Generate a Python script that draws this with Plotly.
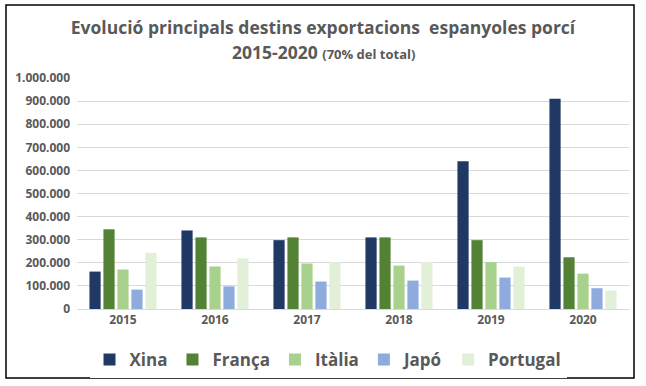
import plotly.graph_objects as go

years = ["2015", "2016", "2017", "2018", "2019", "2020"]
xina = [162000, 340000, 298000, 310000, 640000, 910000]
franca = [345000, 310000, 310000, 310000, 298000, 224000]
italia = [171000, 184000, 197000, 188000, 203000, 153000]
japo = [84000, 98000, 119000, 123000, 136000, 90000]
portugal = [243000, 219000, 203000, 204000, 184000, 80000]

series = [
    ("Xina", xina, "#203864"),
    ("França", franca, "#548235"),
    ("Itàlia", italia, "#A9D18E"),
    ("Japó", japo, "#8FAADC"),
    ("Portugal", portugal, "#E2F0D9"),
]

W, H = 646, 386
ML, MR, MT, MB = 77, 17, 78, 77

fig = go.Figure()
for name, vals, col in series:
    fig.add_trace(go.Bar(x=years, y=vals, name=name, marker=dict(color=col, line=dict(width=0))))

pw = W - ML - MR
ph = H - MT - MB
def px_to_paper_x(p):
    return (p - ML) / pw
def px_to_paper_y(p):
    return (H - MB - p) / ph

fig.update_layout(
    width=W, height=H,
    margin=dict(l=ML, r=MR, t=MT, b=MB),
    paper_bgcolor="white", plot_bgcolor="white",
    separators=",.",
    barmode="group", bargap=0.24, bargroupgap=0.2,
    font=dict(family="Open Sans", color="#595959"),
    title=dict(
        text="<b>Evolució principals destins exportacions  espanyoles porcí</b>",
        x=323 / W, xref="container", xanchor="center", y=1 - 28 / H, yanchor="middle",
        font=dict(size=17.5, color="#595959", family="Open Sans"),
    ),
    annotations=[dict(
        text="<b>2015-2020 <span style='font-size:13px'>(70% del total)</span></b>",
        xref="paper", yref="paper", x=px_to_paper_x(323), y=px_to_paper_y(52),
        xanchor="center", yanchor="middle", showarrow=False,
        font=dict(size=17.5, color="#595959", family="Open Sans"),
    )],
    xaxis=dict(
        showgrid=False, showline=True, linecolor="#D9D9D9", linewidth=1,
        ticks="", tickfont=dict(size=12, color="#595959", family="Open Sans", weight="bold"),
    ),
    yaxis=dict(
        range=[0, 1000000], dtick=100000, tickformat=",d",
        showgrid=True, gridcolor="#D9D9D9", gridwidth=1, zeroline=False,
        ticks="", tickfont=dict(size=12, color="#595959", family="Open Sans", weight="bold"),
        ticklabelstandoff=6,
    ),
    legend=dict(
        orientation="h", x=328 / W, xanchor="center", xref="container",
        y=(H - 360) / H, yref="container", yanchor="middle",
        font=dict(size=17, color="#595959", family="Open Sans", weight="bold"),
        itemwidth=30, traceorder="normal",
    ),
    shapes=[dict(
        type="rect", xref="paper", yref="paper",
        x0=px_to_paper_x(6), x1=px_to_paper_x(634),
        y0=px_to_paper_y(378), y1=px_to_paper_y(5),
        line=dict(color="black", width=1.5), fillcolor="rgba(0,0,0,0)", layer="above",
    )],
)

fig.write_html(
    "out.html",
    config={"displayModeBar": False},
    post_script="document.body.style.margin='0';document.body.style.overflow='hidden';",
)
